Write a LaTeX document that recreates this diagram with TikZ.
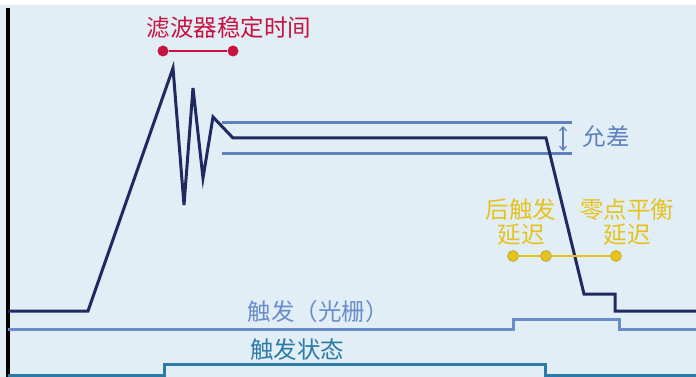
\documentclass[tikz,border=0pt]{standalone}
\usepackage{fontspec}
\newfontfamily\cjk{Noto Sans CJK SC}
\usetikzlibrary{arrows.meta}
\definecolor{bgc}{HTML}{E1EEF6}
\definecolor{navy}{HTML}{1F2B60}
\definecolor{tol}{HTML}{5E80BC}
\definecolor{trig}{HTML}{6A8CCB}
\definecolor{teal}{HTML}{2C7BA6}
\definecolor{redc}{HTML}{C8123F}
\definecolor{yel}{HTML}{E6C21E}
\tikzset{
  lbl/.style={font=\cjk\fontsize{23.5}{25}\selectfont, inner sep=0pt},
  dotr/.style={circle, fill=redc, inner sep=0pt, minimum size=11pt},
  doty/.style={circle, fill=yel, draw=yel!80!black, line width=0.5pt, inner sep=0pt, minimum size=11pt},
  sig/.style={line width=3pt, line join=miter},
}
\begin{document}
\begin{tikzpicture}[x=1pt,y=-1pt]
\useasboundingbox (0,0) rectangle (696,377);
\fill[white] (0,0) rectangle (696,377);
\fill[bgc] (0,5) rectangle (696,377);
% axis
\coordinate (ax1) at (8,8);
\coordinate (ax2) at (8,377);
\draw[line width=3.5pt, black] (ax1) -- (ax2);
% tolerance band
\coordinate (t1a) at (222,123); \coordinate (t1b) at (572,123);
\coordinate (t2a) at (222,154); \coordinate (t2b) at (572,154);
\draw[tol, line width=3pt] (t1a) -- (t1b);
\draw[tol, line width=3pt] (t2a) -- (t2b);
\coordinate (ar1) at (563,126); \coordinate (ar2) at (563,151);
\draw[tol, line width=1.2pt, {Straight Barb[length=4pt,width=7pt]}-{Straight Barb[length=4pt,width=7pt]}] (ar1) -- (ar2);
\node[lbl, text=tol] (tl) at (606,137) {允差};
% main signal
\draw[navy, sig] (8,311) -- (88,311) -- (173,68) -- (184,205) -- (193,88) -- (203,178) -- (213,117) -- (233,138) -- (546,138) -- (584,294) -- (615,294) -- (615,311) -- (696,311);
% trigger (light curtain)
\draw[trig, line width=3pt] (8,329) -- (513,329) -- (513,319) -- (619,319) -- (619,329) -- (696,329);
\node[lbl, text=trig] (trl) at (318,312) {触发（光栅）};
% trigger state
\draw[teal, line width=3pt] (8,375) -- (164,375) -- (164,364) -- (545,364) -- (545,375) -- (696,375);
\node[lbl, text=teal] (tsl) at (297,350) {触发状态};
% filter settling time
\node[lbl, text=redc] (fl) at (229,28) {滤波器稳定时间};
\node[dotr] (r1) at (163,51) {};
\node[dotr] (r2) at (233,51) {};
\draw[redc, line width=2.5pt] (r1) -- (r2);
% delays
\node[lbl, text=yel, align=center] (pd) at (521,222) {后触发\\延迟};
\node[lbl, text=yel, align=center] (zd) at (627,222) {零点平衡\\延迟};
\node[doty] (y1) at (513,256) {};
\node[doty] (y2) at (546,256) {};
\node[doty] (y3) at (616,256) {};
\draw[yel, line width=2.5pt] (y1) -- (y2) -- (y3);
\end{tikzpicture}
\end{document}
